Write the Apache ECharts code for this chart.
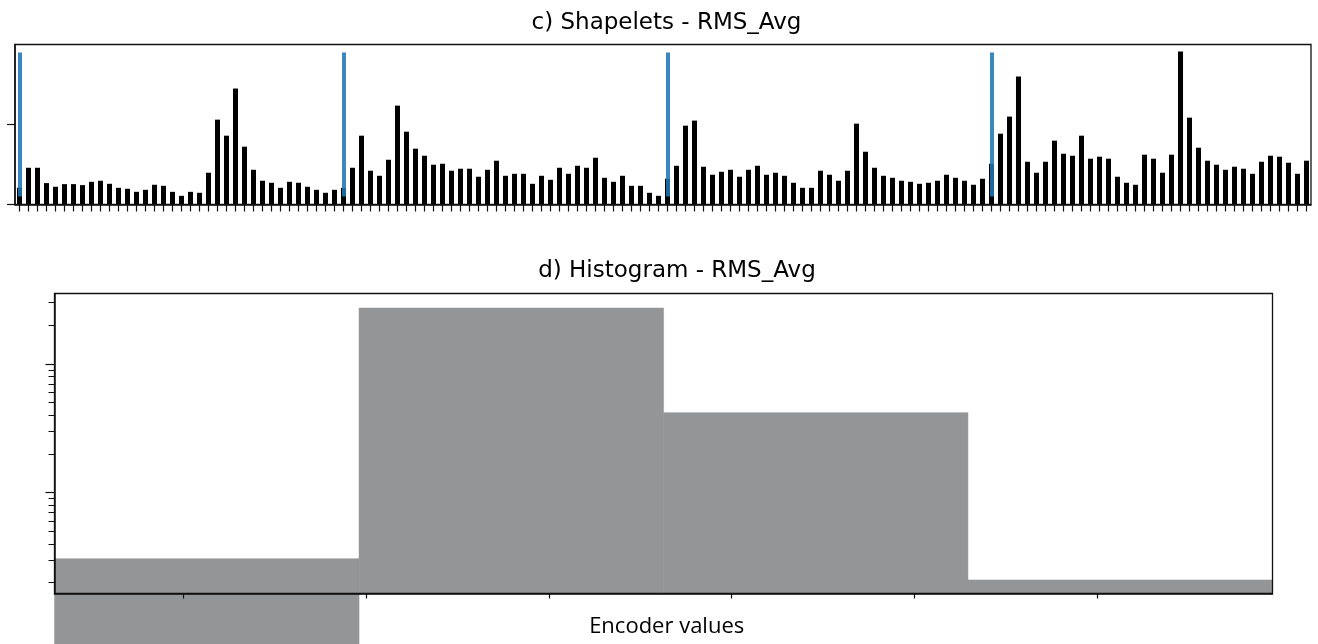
<!DOCTYPE html>
<html><head><meta charset="utf-8">
<script src="https://cdn.jsdelivr.net/npm/echarts@6/dist/echarts.min.js"></script>
<style>html,body{margin:0;padding:0;background:#fff}#c{width:1318px;height:644px}</style>
</head><body><div id="c"></div>
<script>
// ---- data ----
const shapeletValues = [
  0.21, 0.458, 0.458, 0.267, 0.221, 0.254, 0.254, 0.242, 0.283, 0.296,
  0.258, 0.208, 0.196, 0.158, 0.183, 0.246, 0.233, 0.158, 0.108, 0.158,
  0.146, 0.396, 1.058, 0.858, 1.446, 0.721, 0.433, 0.296, 0.271, 0.208,
  0.283, 0.271, 0.221, 0.183, 0.146, 0.183,
  0.208, 0.458, 0.858, 0.421, 0.358, 0.558, 1.233, 0.908, 0.696, 0.608,
  0.496, 0.508, 0.421, 0.446, 0.446, 0.346, 0.433, 0.546, 0.358, 0.383,
  0.383, 0.258, 0.358, 0.308, 0.458, 0.383, 0.483, 0.458, 0.583, 0.333,
  0.283, 0.358, 0.233, 0.233, 0.146, 0.108,
  0.321, 0.483, 0.983, 1.046, 0.471, 0.371, 0.408, 0.433, 0.346, 0.433,
  0.483, 0.371, 0.396, 0.358, 0.271, 0.208, 0.208, 0.421, 0.371, 0.296,
  0.421, 1.008, 0.658, 0.458, 0.358, 0.333, 0.296, 0.283, 0.258, 0.271,
  0.296, 0.371, 0.333, 0.296, 0.246, 0.321,
  0.508, 0.883, 1.096, 1.596, 0.533, 0.396, 0.533, 0.796, 0.633, 0.608,
  0.858, 0.571, 0.596, 0.571, 0.346, 0.271, 0.246, 0.621, 0.571, 0.396,
  0.621, 1.908, 1.083, 0.708, 0.546, 0.496, 0.433, 0.471, 0.446, 0.383,
  0.533, 0.608, 0.596, 0.521, 0.383, 0.546
];
const shapeletCategories = shapeletValues.map((v, i) => String(i));
const shapeletMarkers = [0, 36, 72, 108];
const shapeletYTicks = [0, 1];

const histEdges = [-0.707, 0.960, 2.627, 4.293, 5.960];
const histCounts = [3.07, 272, 41.9, 2.1];
const histXTicks = [0, 1, 2, 3, 4, 5];
const histYMajorTicks = [10, 100];
const histYMinorTicks = [2, 3, 4, 5, 6, 7, 8, 9, 20, 30, 40, 50, 60, 70, 80, 90, 200, 300];

const titleTop = 'c) Shapelets - RMS_Avg';
const titleBottom = 'd) Histogram - RMS_Avg';
const histXName = 'Encoder values';

// ---- layout / style ----
const topYMax = 1.995;
const histYMin = 1.648, histYMax = 353;
const axisColor = '#111';

const chart = echarts.init(document.getElementById('c'), null, {renderer: 'canvas'});
chart.setOption({
  animation: false,
  backgroundColor: '#fff',
  graphic: [
    {type: 'text', x: 666.5, y: 23.5, style: {text: titleTop, textAlign: 'center', textVerticalAlign: 'middle', font: '23px "DejaVu Sans"', fill: '#000'}},
    {type: 'text', x: 677, y: 270.7, style: {text: titleBottom, textAlign: 'center', textVerticalAlign: 'middle', font: '23px "DejaVu Sans"', fill: '#000'}},
    {type: 'text', x: 666.7, y: 626.5, style: {text: histXName, textAlign: 'center', textVerticalAlign: 'middle', font: '22px "Open Sans"', fill: '#000'}}
  ],
  grid: [
    {left: 15, top: 44.5, width: 1296, height: 160, show: true, borderColor: axisColor, borderWidth: 1.3, z: 5, backgroundColor: 'transparent'},
    {left: 54.5, top: 293.5, width: 1218, height: 300, show: true, borderColor: axisColor, borderWidth: 1.3, z: 5, backgroundColor: 'transparent'}
  ],
  xAxis: [
    {type: 'category', gridIndex: 0, data: shapeletCategories, boundaryGap: true, z: 5,
     axisLine: {lineStyle: {color: axisColor, width: 1.5}},
     axisTick: {show: true, alignWithLabel: true, interval: 0, length: 7, lineStyle: {color: axisColor, width: 1.2}},
     axisLabel: {show: true, interval: 0, formatter: () => '', color: 'transparent'}, splitLine: {show: false}},
    {type: 'value', gridIndex: 1, min: histEdges[0], max: histEdges[histEdges.length - 1], z: 5,
     axisLine: {onZero: false, lineStyle: {color: axisColor, width: 1.5}},
     axisTick: {customValues: histXTicks, length: 5, lineStyle: {color: axisColor, width: 1.2}},
     axisLabel: {show: false, customValues: histXTicks}, splitLine: {show: false}}
  ],
  yAxis: [
    {type: 'value', gridIndex: 0, min: 0, max: topYMax, z: 5,
     axisLine: {show: true, onZero: false, lineStyle: {color: axisColor, width: 1.5}},
     axisTick: {show: true, customValues: shapeletYTicks, length: 8, lineStyle: {color: axisColor, width: 1.2}},
     axisLabel: {show: false, customValues: shapeletYTicks}, splitLine: {show: false}},
    {type: 'log', logBase: 10, gridIndex: 1, position: 'left', min: histYMin, max: histYMax, z: 5,
     axisLine: {show: true, onZero: false, lineStyle: {color: axisColor, width: 1.5}},
     axisTick: {show: true, customValues: histYMajorTicks, length: 9, lineStyle: {color: axisColor, width: 1.2}},
     axisLabel: {show: false, customValues: histYMajorTicks}, splitLine: {show: false}, minorTick: {show: false}},
    {type: 'log', logBase: 10, gridIndex: 1, position: 'left', offset: 0, min: histYMin, max: histYMax, z: 5,
     axisLine: {show: false, onZero: false},
     axisTick: {show: true, customValues: histYMinorTicks, length: 6, lineStyle: {color: axisColor, width: 1}},
     axisLabel: {show: false, customValues: histYMinorTicks}, splitLine: {show: false}, minorTick: {show: false}}
  ],
  series: [
    {type: 'bar', xAxisIndex: 0, yAxisIndex: 0, data: shapeletValues, barWidth: '56%',
     itemStyle: {color: '#000'}, silent: true,
     markLine: {
       silent: true, symbol: ['none', 'none'], label: {show: false},
       lineStyle: {color: '#1f77b4', width: 4, type: 'solid', opacity: 0.88},
       emphasis: {disabled: true},
       data: shapeletMarkers.map(i => [{coord: [i, topYMax * 0.05]}, {coord: [i, topYMax * 0.95]}])
     }},
    {type: 'custom', xAxisIndex: 1, yAxisIndex: 1, silent: true, clip: false,
     data: histCounts.map((c, i) => [histEdges[i], histEdges[i + 1], c]),
     encode: {x: [0, 1], y: 2},
     renderItem: function (params, api) {
       const pTop = api.coord([api.value(0), api.value(2)]);
       const pEnd = api.coord([api.value(1), histYMin]);
       const bottom = params.dataIndex === 0 ? api.getHeight() : pEnd[1];
       return {type: 'rect', shape: {x: pTop[0], y: pTop[1], width: pEnd[0] - pTop[0], height: bottom - pTop[1]},
               style: {fill: '#949596', stroke: '#949596', lineWidth: 0.5}};
     }}
  ]
});
</script></body></html>
